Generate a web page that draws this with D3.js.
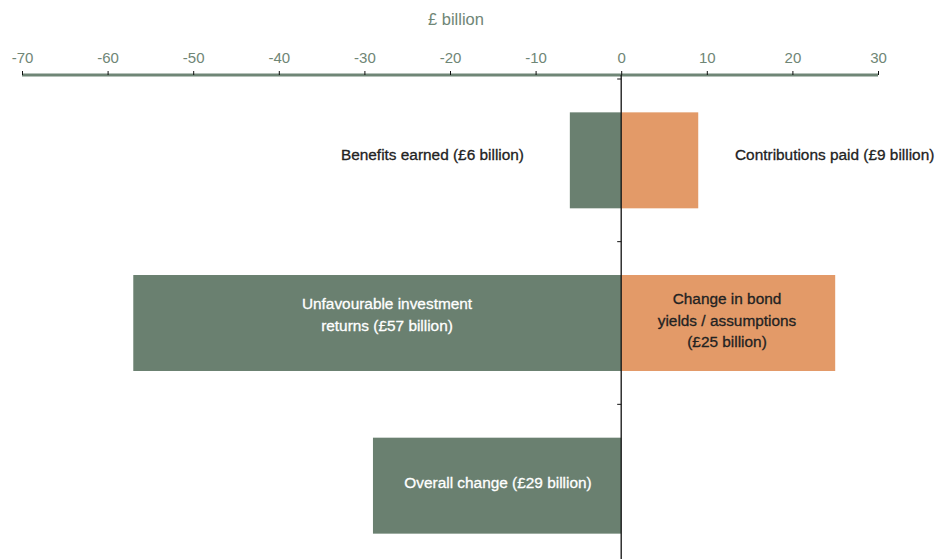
<!DOCTYPE html>
<html>
<head>
<meta charset="utf-8">
<script src="https://cdn.jsdelivr.net/npm/d3@7"></script>
<style>
  html, body { margin: 0; padding: 0; background: #fff; }
  svg { display: block; font-family: "Liberation Sans", Arial, Helvetica, sans-serif; }
</style>
</head>
<body>
<svg id="chart" width="937" height="559"></svg>
<script>
// Changes in scheme funding, £ billion
const rows = ["flows", "market", "overall"];
const negativeValues = [-6, -57, -29];
const positiveValues = [9, 25, 0];
const negativeLabels = [
  ["Benefits earned (£6 billion)"],
  ["Unfavourable investment", "returns (£57 billion)"],
  ["Overall change (£29 billion)"]
];
const positiveLabels = [
  ["Contributions paid (£9 billion)"],
  ["Change in bond", "yields / assumptions", "(£25 billion)"],
  []
];
const xTicks = [-70, -60, -50, -40, -30, -20, -10, 0, 10, 20, 30];
const axisTitle = "£ billion";

const green = "#6a8070";
const orange = "#e39a68";
const axisGreen = "#6f8676";

const svg = d3.select("#chart");

const x = d3.scaleLinear().domain([-70, 30]).range([22, 878]);
const y = d3.scaleBand().domain(rows).range([79, 567]).paddingInner(0.41).paddingOuter(0.205);

// Axis title
svg.append("text")
  .attr("x", 456).attr("y", 25)
  .attr("text-anchor", "middle")
  .attr("fill", axisGreen)
  .attr("font-size", 16.5)
  .text(axisTitle);

// Top value axis
const xAxis = svg.append("g")
  .attr("transform", "translate(0,75)")
  .call(d3.axisTop(x).tickValues(xTicks).tickSize(4).tickPadding(8).tickFormat(d => String(d)));
xAxis.select(".domain").attr("stroke", axisGreen).attr("stroke-width", 3).attr("d", `M${x(-70)},0H${x(30)}`);
xAxis.selectAll(".tick line").attr("stroke", "#111").attr("stroke-width", 1);
xAxis.selectAll(".tick text")
  .attr("fill", axisGreen)
  .attr("font-size", 15)
  .attr("font-family", "Liberation Sans, Arial, sans-serif");

// Bars
const data = rows.map((r, i) => ({ row: r, neg: negativeValues[i], pos: positiveValues[i] }));

svg.append("g").selectAll("rect.neg").data(data).join("rect")
  .attr("class", "neg")
  .attr("x", d => x(d.neg))
  .attr("width", d => x(0) - x(d.neg))
  .attr("y", d => y(d.row))
  .attr("height", y.bandwidth())
  .attr("fill", green);

svg.append("g").selectAll("rect.pos").data(data.filter(d => d.pos > 0)).join("rect")
  .attr("class", "pos")
  .attr("x", x(0))
  .attr("width", d => x(d.pos) - x(0))
  .attr("y", d => y(d.row))
  .attr("height", y.bandwidth())
  .attr("fill", orange);

// Category axis along zero
const yAxis = svg.append("g")
  .attr("transform", `translate(${x(0)},0)`);
yAxis.append("line")
  .attr("x1", 0).attr("x2", 0)
  .attr("y1", 75).attr("y2", 559)
  .attr("stroke", "#111").attr("stroke-width", 1.3);
const boundaries = rows.map(r => y(r) - y.step() * y.paddingInner() / 2);
yAxis.selectAll("line.tick").data(boundaries).join("line")
  .attr("class", "tick")
  .attr("x1", -4).attr("x2", 0)
  .attr("y1", d => d).attr("y2", d => d)
  .attr("stroke", "#111").attr("stroke-width", 1);

// Labels (slightly heavier than regular weight)
function drawLabel(lines, cx, cy, anchor, color) {
  const lh = 21.5;
  const t = svg.append("text")
    .attr("text-anchor", anchor)
    .attr("fill", color)
    .attr("stroke", color)
    .attr("stroke-width", 0.3)
    .attr("font-size", 15.4);
  lines.forEach((s, k) => {
    t.append("tspan")
      .attr("x", cx)
      .attr("y", cy + (k - (lines.length - 1) / 2) * lh)
      .attr("dy", "0.35em")
      .text(s);
  });
}

const mid = r => y(r) + y.bandwidth() / 2;

drawLabel(negativeLabels[0], 524, mid("flows") - 6, "end", "#222");
drawLabel(positiveLabels[0], 735, mid("flows") - 6, "start", "#222");
drawLabel(negativeLabels[1], 387, mid("market") - 8.5, "middle", "#fff");
drawLabel(positiveLabels[1], 727, mid("market") - 2.5, "middle", "#222");
drawLabel(negativeLabels[2], 498, mid("overall") - 3, "middle", "#fff");
</script>
</body>
</html>
